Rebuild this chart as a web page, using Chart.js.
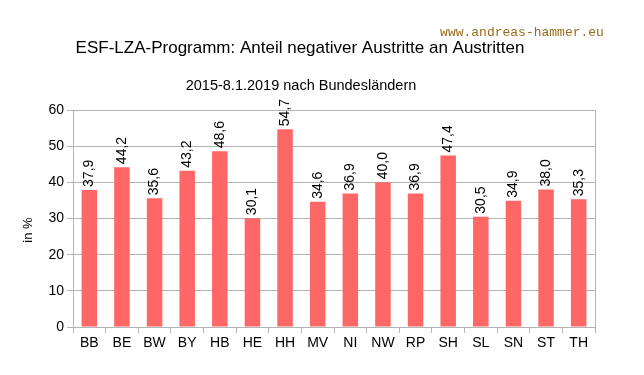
<!DOCTYPE html>
<html>
<head>
<meta charset="utf-8">
<script src="https://cdn.jsdelivr.net/npm/chart.js@4/dist/chart.umd.min.js"></script>
<style>
  html, body { margin: 0; padding: 0; background: #fff; }
  canvas { display: block; }
</style>
</head>
<body>
<canvas id="chart" width="644" height="375"></canvas>
<script>
'use strict';

// data
var laender = ['BB', 'BE', 'BW', 'BY', 'HB', 'HE', 'HH', 'MV', 'NI', 'NW', 'RP', 'SH', 'SL', 'SN', 'ST', 'TH'];
var anteilNegativ = [37.9, 44.2, 35.6, 43.2, 48.6, 30.1, 54.7, 34.6, 36.9, 40.0, 36.9, 47.4, 30.5, 34.9, 38.0, 35.3];
var yTicks = [0, 10, 20, 30, 40, 50, 60];

var titel = 'ESF-LZA-Programm: Anteil negativer Austritte an Austritten';
var untertitel = '2015-8.1.2019 nach Bundesländern';
var yTitel = 'in %';
var wasserzeichen = 'www.andreas-hammer.eu';

var FONT = '"Liberation Sans", Arial, sans-serif';

function fmt(v) {
    return v.toFixed(1).replace('.', ',');
}

var textPlugin = {
    id: 'texte',
    afterDraw: function (chart) {
        var ctx = chart.ctx;
        var y = chart.scales.y;
        var x = chart.scales.x;

        ctx.save();
        ctx.fillStyle = '#000';
        ctx.textAlign = 'center';
        ctx.textBaseline = 'middle';
        ctx.font = '17px ' + FONT;
        ctx.fillText(titel, 300, 48);
        ctx.font = '14.5px ' + FONT;
        ctx.fillText(untertitel, 301, 86);

        ctx.font = '13px "Liberation Mono", monospace';
        ctx.fillStyle = '#9a6a1a';
        ctx.fillText(wasserzeichen, 522, 33);

        // y axis title
        ctx.save();
        ctx.fillStyle = '#000';
        ctx.font = '13px ' + FONT;
        ctx.translate(28, 230);
        ctx.rotate(-Math.PI / 2);
        ctx.fillText(yTitel, 0, 0);
        ctx.restore();

        // value labels
        ctx.font = '14px ' + FONT;
        ctx.fillStyle = '#000';
        anteilNegativ.forEach(function (v, i) {
            var px = x.getPixelForValue(i);
            var py = y.getPixelForValue(v);
            ctx.save();
            ctx.translate(px, py - 3);
            ctx.rotate(-Math.PI / 2);
            ctx.textAlign = 'left';
            ctx.textBaseline = 'middle';
            ctx.fillText(fmt(v), 0, 0);
            ctx.restore();
        });
        ctx.restore();
    }
};

var myChart = new Chart(document.getElementById('chart'), {
    type: 'bar',
    data: {
        labels: laender,
        datasets: [{
            data: anteilNegativ,
            backgroundColor: '#ff6666',
            borderWidth: 0,
            barPercentage: 0.5,
            categoryPercentage: 0.95
        }]
    },
    options: {
        responsive: false,
        animation: false,
        layout: {
            padding: { left: 0, top: 110, right: 49, bottom: 0 }
        },
        plugins: {
            legend: { display: false },
            tooltip: { enabled: false }
        },
        scales: {
            x: {
                afterFit: function (scale) { scale.height = 48; },
                grid: {
                    offset: true,
                    drawOnChartArea: false,
                    tickLength: 6,
                    color: '#b3b3b3'
                },
                border: { color: '#b3b3b3' },
                ticks: {
                    color: '#000',
                    font: { family: FONT, size: 14 },
                    padding: 2,
                    maxRotation: 0
                }
            },
            y: {
                min: 0,
                max: 60,
                afterFit: function (scale) { scale.width = 73; },
                afterBuildTicks: function (scale) {
                    var t = [];
                    for (var v = 0; v <= 60; v += 5) t.push({ value: v });
                    scale.ticks = t;
                },
                grid: {
                    color: '#b3b3b3',
                    tickLength: 6,
                    tickColor: function (c) {
                        return yTicks.indexOf(c.tick.value) >= 0 ? '#b3b3b3' : 'rgba(0,0,0,0)';
                    }
                },
                border: { color: '#b3b3b3' },
                ticks: {
                    color: '#000',
                    font: { family: FONT, size: 14 },
                    padding: 3,
                    callback: function (v) {
                        return yTicks.indexOf(v) >= 0 ? String(v) : '';
                    }
                }
            }
        }
    },
    plugins: [textPlugin, {
        id: 'rechterRand',
        afterDraw: function (chart) {
            var a = chart.chartArea, ctx = chart.ctx;
            ctx.save();
            ctx.strokeStyle = '#b3b3b3';
            ctx.lineWidth = 1;
            ctx.beginPath();
            ctx.moveTo(Math.round(a.right) + 0.5, a.top);
            ctx.lineTo(Math.round(a.right) + 0.5, a.bottom + 6);
            ctx.stroke();
            ctx.restore();
        }
    }]
});
</script>
</body>
</html>
